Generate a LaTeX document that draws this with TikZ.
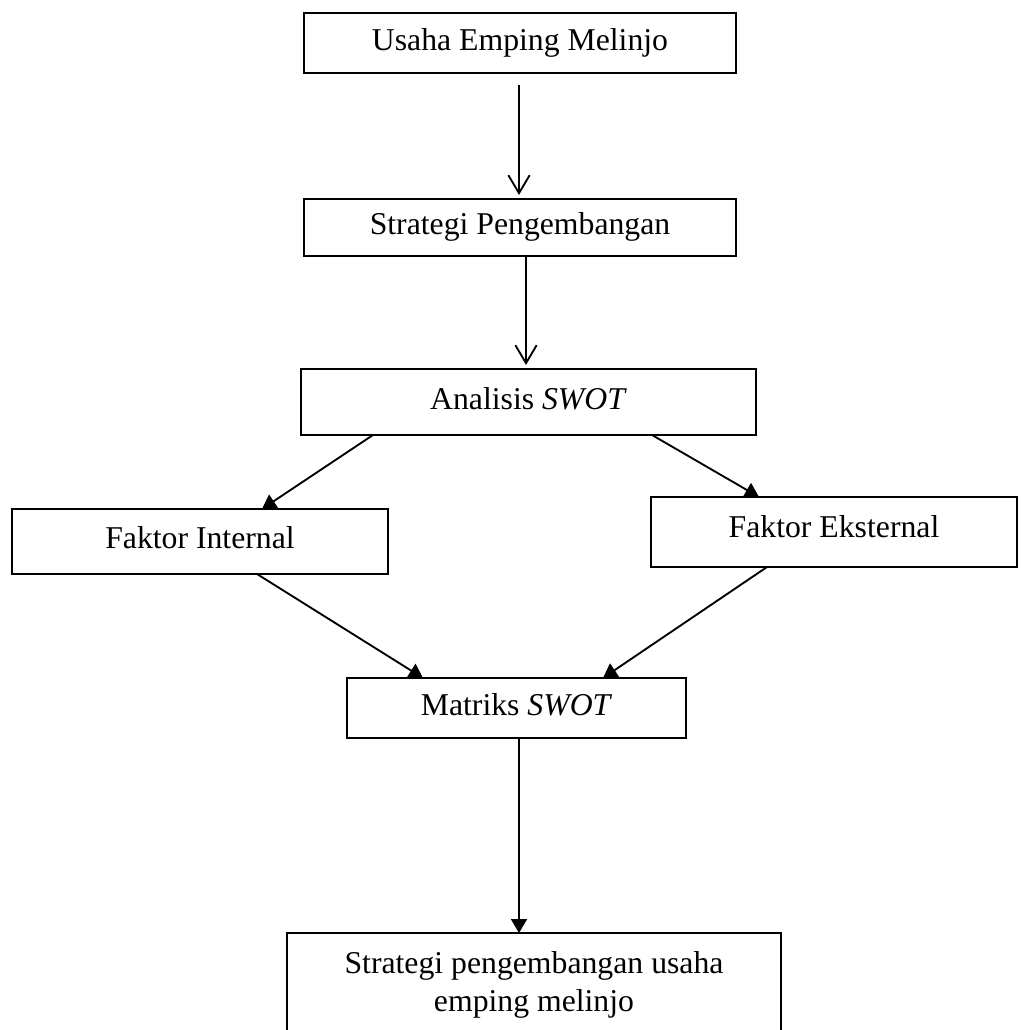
\documentclass[tikz,border=0pt]{standalone}
\usepackage{fontspec}
\setmainfont{Liberation Serif}
\usetikzlibrary{arrows.meta,calc}
\begin{document}
\begin{tikzpicture}[x=0.75pt,y=-0.75pt,
  font=\fontsize{23.8}{28.5}\selectfont,
  boxbase/.style={draw, line width=1.6pt, inner sep=0pt, outer sep=0pt},
  box/.style={boxbase, text height=16.2pt, text depth=5.2pt},
  openarr/.style={line width=1.4pt, -{Straight Barb[length=13.5pt,width=16pt]}},
  filarr/.style={line width=1.4pt, -{Triangle[length=10.5pt,width=12pt]}}]
\useasboundingbox (0,0) rectangle (1020,1030);
\fill[white] (0,0) rectangle (1020,1030);

\node[box, minimum width=324pt, minimum height=45pt] (b1) at (520,43) {Usaha Emping Melinjo};
\node[box, minimum width=324pt, minimum height=42.75pt] (b2) at (520,227.5) {Strategi Pengembangan};
\node[box, minimum width=341.25pt, minimum height=49.5pt] (b3) at (528.5,402) {Analisis \textit{SWOT}};
\node[box, minimum width=282pt, minimum height=48.75pt] (b4) at (200,541.5) {Faktor Internal};
\node[box, minimum width=274.5pt, minimum height=52.5pt] (b5) at (834,532) {\raisebox{1.7pt}[\height][\depth]{Faktor Eksternal}};
\node[box, minimum width=254.25pt, minimum height=45pt] (b6) at (516.5,708) {Matriks \textit{SWOT}};
\node[boxbase, align=center, minimum width=370.5pt, minimum height=78pt] (b7) at (534,985) {Strategi pengembangan usaha\\emping melinjo};

\draw[openarr] ($(b1.south)+(-1,12)$) -- ($(b2.north)+(-1,-4)$);
\draw[openarr] ($(b2.south)+(6,0)$) -- ($(b3.north)+(-2.5,-4)$);
\draw[filarr] ($(b3.south west)+(72,0)$) -- ($(b4.north)+(62,0)$);
\draw[filarr] ($(b3.south east)+(-104,0)$) -- ($(b5.north)+(-75,0)$);
\draw[filarr] ($(b4.south)+(57,0)$) -- ($(b6.north)+(-93.5,0)$);
\draw[filarr] ($(b5.south)+(-67,0)$) -- ($(b6.north)+(86.5,0)$);
\draw[filarr] ($(b6.south)+(2.5,0)$) -- ($(b7.north)+(-15,0)$);
\end{tikzpicture}
\end{document}
